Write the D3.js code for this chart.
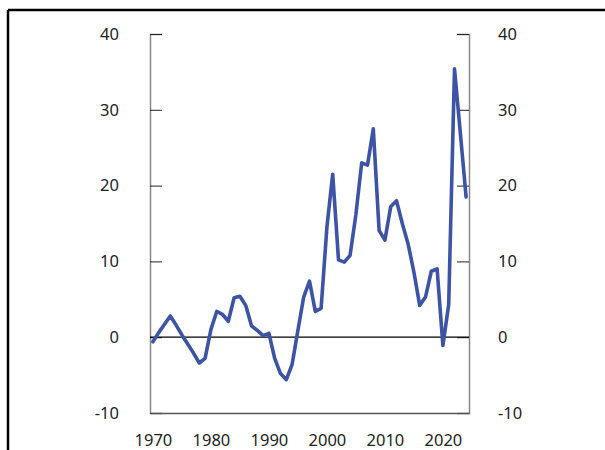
<!DOCTYPE html>
<html lang="en">
<head>
<meta charset="UTF-8">
<title>Line chart</title>
<script src="https://d3js.org/d3.v7.min.js"></script>
<style>
    body { margin: 0; background: #fff; }
    svg { display: block; }
    .tick text { font-family: "Noto Sans", sans-serif; font-size: 16.5px; fill: #222; }
</style>
</head>
<body>
<svg width="605" height="450"></svg>
<script>
// data
const years = d3.range(1970, 2025);
const values = [
    -0.6, 0.6, 1.7, 2.8, 1.6, 0.3, -0.9, -2.1, -3.4, -2.8,
    1.0, 3.4, 3.0, 2.1, 5.2, 5.4, 4.2, 1.5, 0.9, 0.2,
    0.5, -2.8, -4.8, -5.6, -3.6, 0.9, 5.3, 7.4, 3.4, 3.8,
    14.5, 21.5, 10.2, 9.9, 10.8, 16.2, 23.0, 22.7, 27.5, 14.1,
    12.8, 17.2, 18.0, 15.0, 12.3, 8.6, 4.2, 5.3, 8.7, 9.0,
    -1.1, 4.3, 35.4, 27.0, 18.5
];
const yTicks = [-10, 0, 10, 20, 30, 40];
const xTicks = [1970, 1980, 1990, 2000, 2010, 2020];

const data = years.map((y, i) => ({ year: y, value: values[i] }));

const svg = d3.select("svg");
const plotLeft = 150, plotRight = 469, plotTop = 34, plotBottom = 413;

const x = d3.scaleLinear().domain([1969.5, 2024.5]).range([plotLeft, plotRight]);
const y = d3.scaleLinear().domain([-10, 40]).range([plotBottom, plotTop]);

// plain hyphen for negatives, like the original
const fmt = d => String(d);

// outer frame (left and top edges)
svg.append("line").attr("x1", 8).attr("x2", 8).attr("y1", 10).attr("y2", 450)
    .attr("stroke", "#000").attr("stroke-width", 2.5);
svg.append("line").attr("x1", 8).attr("x2", 605).attr("y1", 10).attr("y2", 10)
    .attr("stroke", "#000").attr("stroke-width", 2.5);

// left axis
const gl = svg.append("g")
    .attr("transform", `translate(${plotLeft},0)`)
    .call(d3.axisRight(y).tickValues(yTicks).tickSize(12).tickFormat(fmt));
gl.select(".domain").attr("stroke", "#888").attr("stroke-width", 1.5);
gl.selectAll(".tick line").attr("stroke", "#222");
gl.selectAll(".tick text").attr("x", -31).attr("text-anchor", "end");

// right axis
const gr = svg.append("g")
    .attr("transform", `translate(${plotRight},0)`)
    .call(d3.axisLeft(y).tickValues(yTicks).tickSize(12).tickFormat(fmt));
gr.select(".domain").attr("stroke", "#888").attr("stroke-width", 1.5);
gr.selectAll(".tick line").attr("stroke", "#222");
gr.selectAll(".tick text").attr("x", 29).attr("text-anchor", "start");

// bottom axis
const gb = svg.append("g")
    .attr("transform", `translate(0,${plotBottom})`)
    .call(d3.axisBottom(x).tickValues(xTicks).tickSize(0).tickPadding(21).tickFormat(fmt));
gb.select(".domain").attr("stroke", "#555").attr("stroke-width", 1.5);

// zero line
svg.append("line")
    .attr("x1", plotLeft).attr("x2", plotRight)
    .attr("y1", y(0)).attr("y2", y(0))
    .attr("stroke", "#000").attr("stroke-width", 1.2);

// series
svg.append("path")
    .datum(data)
    .attr("fill", "none")
    .attr("stroke", "#3d54a6")
    .attr("stroke-width", 3.6)
    .attr("stroke-linejoin", "round")
    .attr("stroke-linecap", "round")
    .attr("d", d3.line().x(d => x(d.year)).y(d => y(d.value)));
</script>
</body>
</html>
